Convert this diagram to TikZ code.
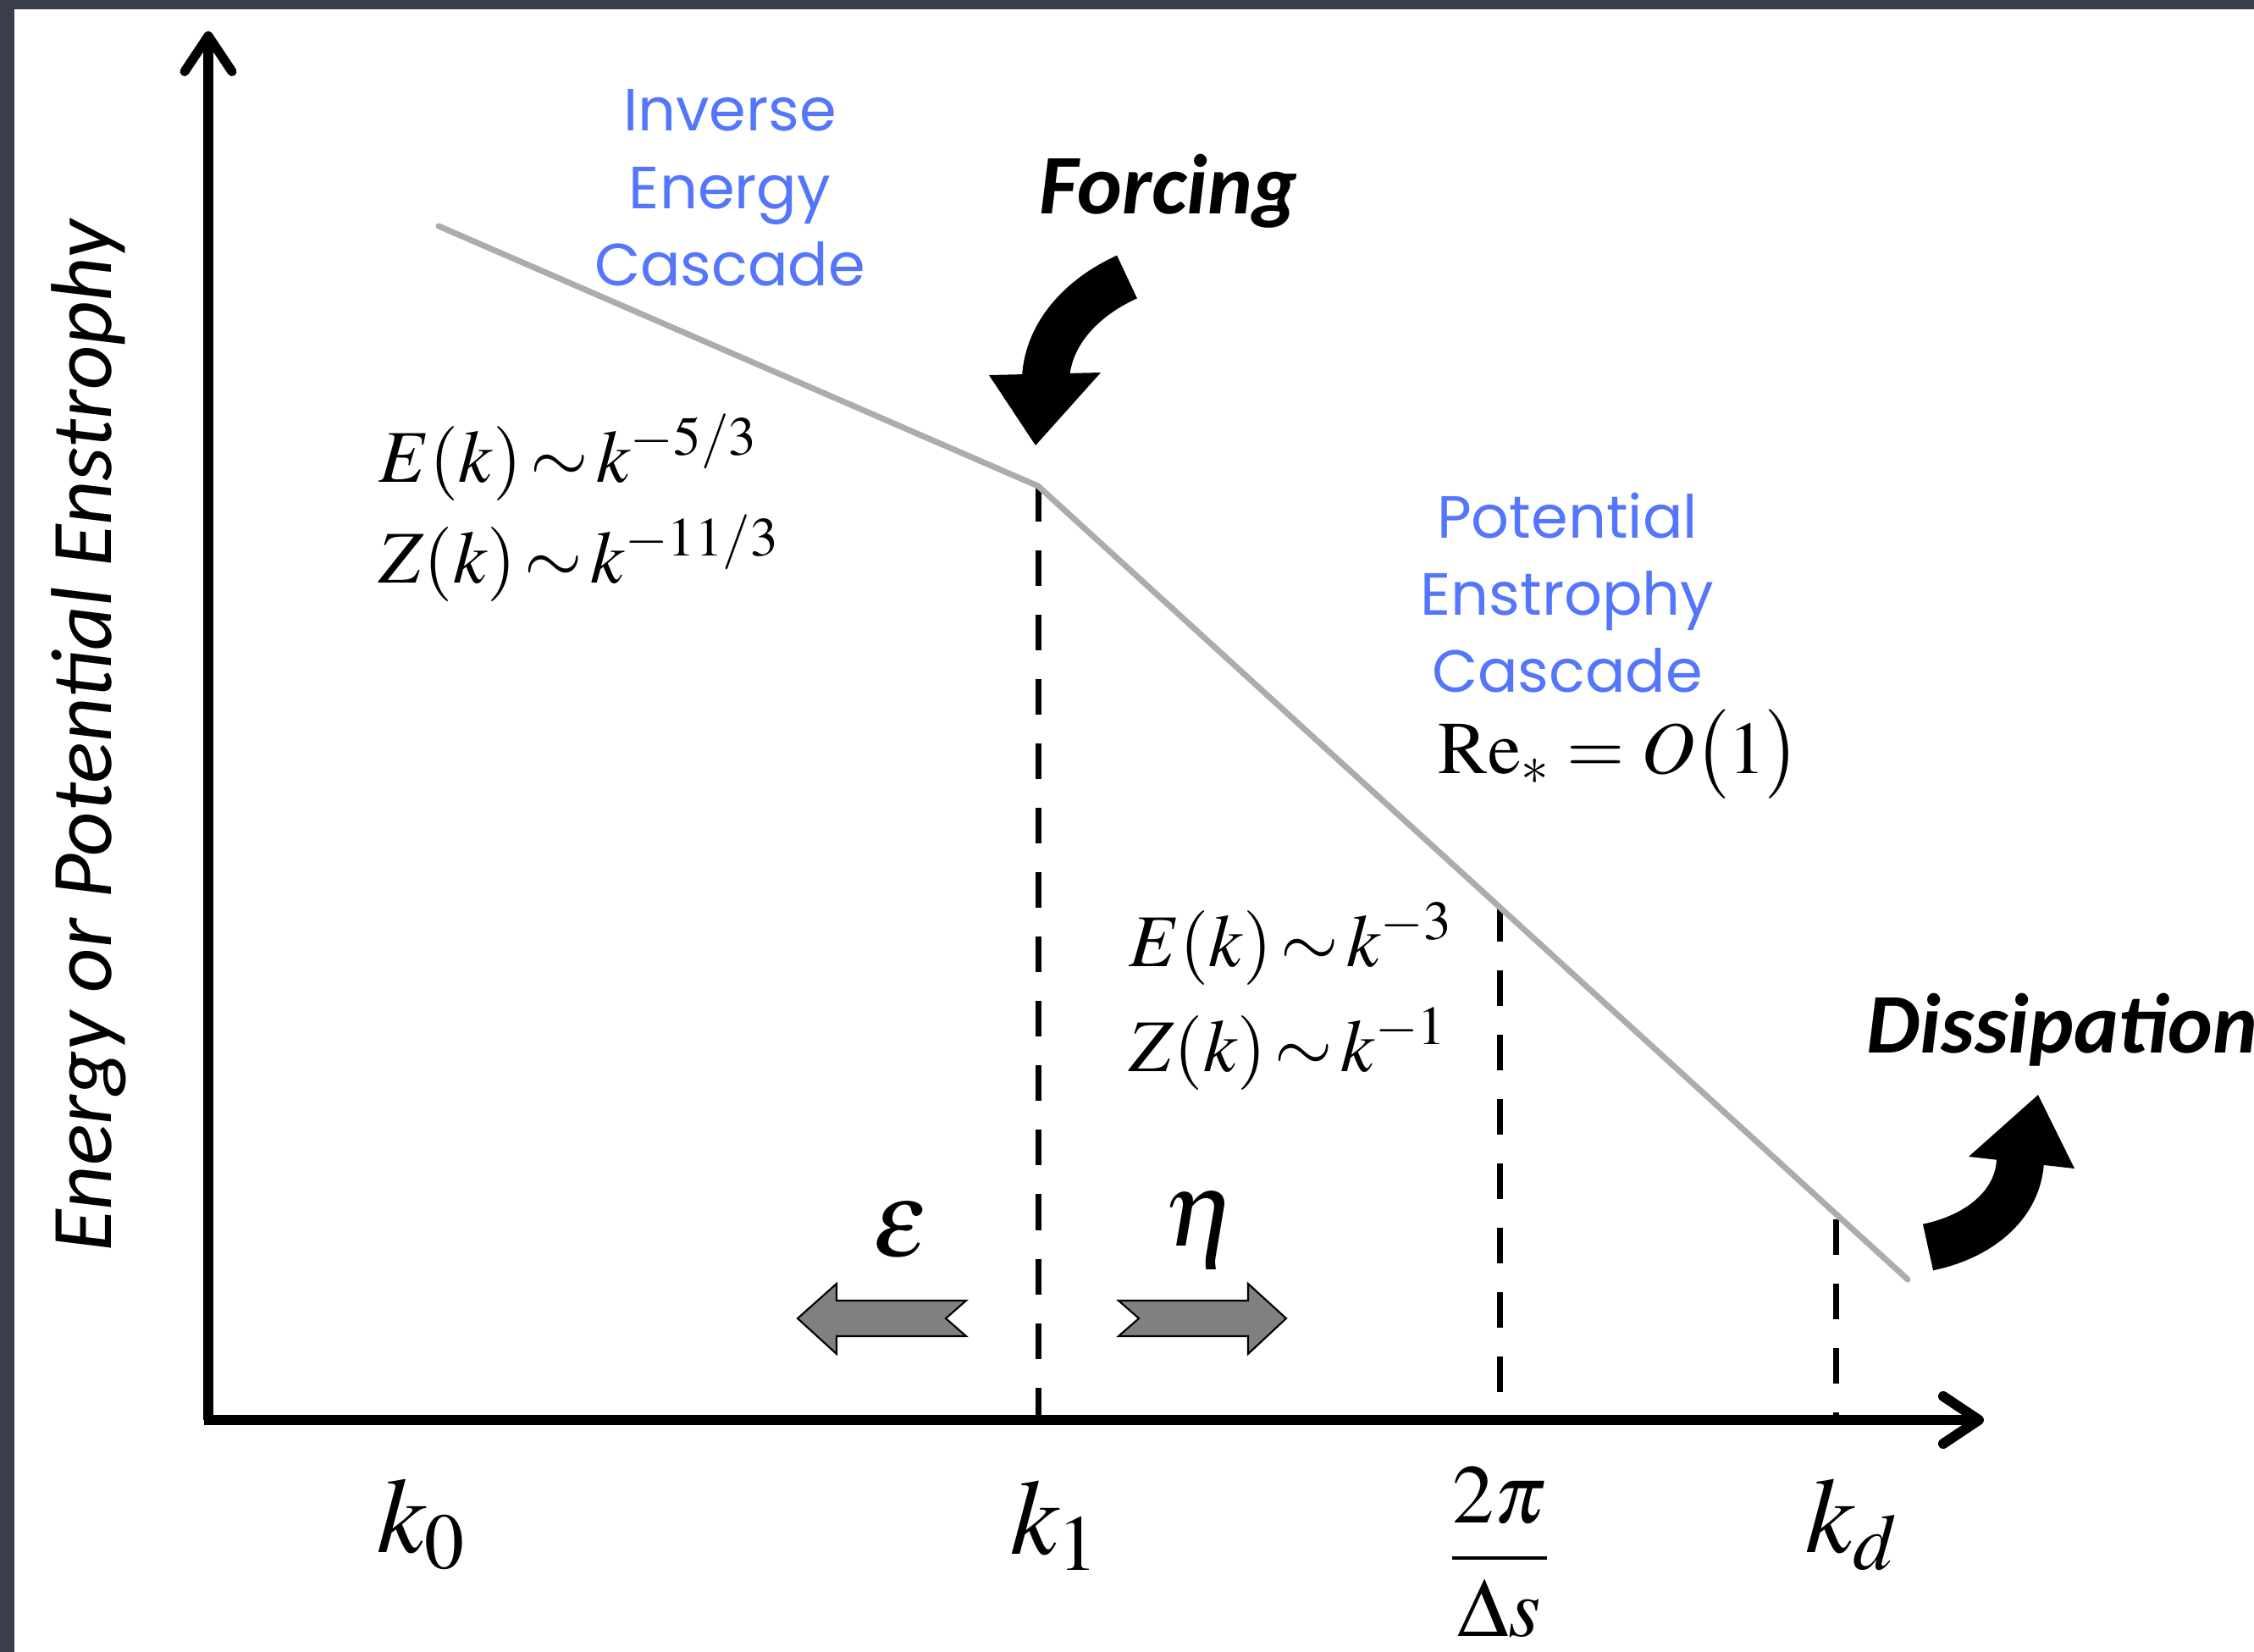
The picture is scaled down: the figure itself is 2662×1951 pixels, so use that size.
\documentclass[tikz,border=0pt]{standalone}
\usepackage{mathptmx}
\usepackage{fontspec}
\setmainfont{Liberation Serif}
\newfontfamily\handfont{Poppins}
\newfontfamily\calfont{Carlito}
\usepackage{tikz}
\usetikzlibrary{positioning, arrows.meta}

\definecolor{slate}{RGB}{58,62,76}
\definecolor{cascblue}{RGB}{84,118,252}
\definecolor{specgray}{RGB}{172,172,172}
\definecolor{blockgray}{RGB}{128,128,128}

\begin{document}
\begin{tikzpicture}[
    x=0.01cm, y=-0.01cm,
    axis/.style={line width=0.11cm, -{Straight Barb[length=0.42cm, width=0.56cm, round]}},
    spec/.style={line width=0.07cm, draw=specgray, line cap=round, line join=round},
    guide/.style={line width=0.07cm, dash pattern=on 0.42cm off 0.34cm},
    blocky/.style={fill=blockgray, draw=black, line width=0.6pt, line join=miter},
    curvy/.style={line width=0.56cm, draw=black},
    casc/.style={text=cascblue, font=\handfont\fontsize{20}{26}\selectfont, align=center, inner sep=0pt},
    law/.style={font=\fontsize{25}{30}\selectfont, anchor=base west, inner sep=0pt},
    tick/.style={font=\fontsize{36}{40}\selectfont, inner sep=0pt},
    word/.style={font=\calfont\bfseries\itshape\fontsize{28.5}{32}\selectfont, inner sep=0pt}
]
\useasboundingbox (0,0) rectangle (2662,1951);

% Slide frame
\fill[slate] (0,0) rectangle (2662,1951);
\fill[white] (17,11) rectangle (2662,1951);

% Coordinates
\coordinate (O) at (246,1677);
\coordinate (ytip) at (246,37);
\coordinate (xtip) at (2343,1677);
\coordinate (s0) at (518,267);   % start of spectrum
\coordinate (s1) at (1226,574);  % forcing scale k1
\coordinate (s2) at (1771,1070); % 2pi/Delta s
\coordinate (s3) at (2168,1440); % k_d
\coordinate (s4) at (2253,1511); % end of spectrum

% Dashed guides down to the k axis
\draw[guide] (s1) -- (s1 |- O);
\draw[guide] (s2) -- (s2 |- O);
\draw[guide] (s3) -- (s3 |- O);

% Spectrum
\draw[spec] (s0) -- (s1) -- (s4);

% Axes
\draw[axis] (O) -- (ytip);
\draw[axis, line width=0.12cm] ([xshift=-0.05cm]O) -- (xtip);

% Forcing arrow
\draw[curvy] (1331,327) .. controls (1276,352) and (1238,395) .. (1235,446);
\fill (1168,443) -- (1300,440) -- (1223,526) -- cycle;

% Dissipation arrow
\draw[curvy] (2277,1473) .. controls (2335,1461) and (2383,1425) .. (2386,1371);
\fill (2325,1366) -- (2450,1380) -- (2407,1293) -- cycle;

% Flux arrows
\draw[blocky] (942,1557) -- (988,1516) -- (988,1536) -- (1141,1536) -- (1117,1557)
    -- (1141,1578) -- (988,1578) -- (988,1599) -- cycle;
\draw[blocky] (1519,1557) -- (1474,1516) -- (1474,1536) -- (1321,1536) -- (1345,1557)
    -- (1321,1578) -- (1474,1578) -- (1474,1599) -- cycle;
\node[tick] (eps) at (1064,1452) {$\varepsilon$};
\node[tick] (eta) at (1418,1452) {$\eta$};

% Cascade labels
\node[casc] (inv) at (862,222) {Inverse\\Energy\\Cascade};
\node[casc] (pot) at (1851,700) {Potential\\Enstrophy\\Cascade};

% Spectral laws
\node[law] (ekA) at (447,569) {$E(k)\,{\sim}\,k^{-5/3}$};
\node[law] (zkA) at (447,688) {$Z(k)\,{\sim}\,k^{-11/3}$};
\node[law] (ekB) at (1333,1141) {$E(k)\,{\sim}\,k^{-3}$};
\node[law] (zkB) at (1333,1265) {$Z(k)\,{\sim}\,k^{-1}$};
\node[law] (rey) at (1698,913) {$\mathrm{Re}_{*} = O\big(1\big)$};

% Forcing and dissipation
\node[word] (forc) at (1380,226) {Forcing};
\node[word, anchor=base west] (diss) at (2204,1243) {Dissipation};

% Wavenumbers
\node[tick, anchor=base west] (k0) at (445,1833) {$k_0$};
\node[tick, anchor=base west] (k1) at (1193,1835) {$k_1$};
\node[tick, font=\fontsize{28}{32}\selectfont] (ks) at (1771,1833) {$\displaystyle\frac{2\pi}{\Delta s}$};
\node[tick, anchor=base west] (kd) at (2132,1833) {$k_d$};

% Vertical label
\node[rotate=90, font=\calfont\itshape\fontsize{29}{32}\selectfont] (ylab) at (105,869)
    {Energy or Potential Enstrophy};
\end{tikzpicture}
\end{document}
